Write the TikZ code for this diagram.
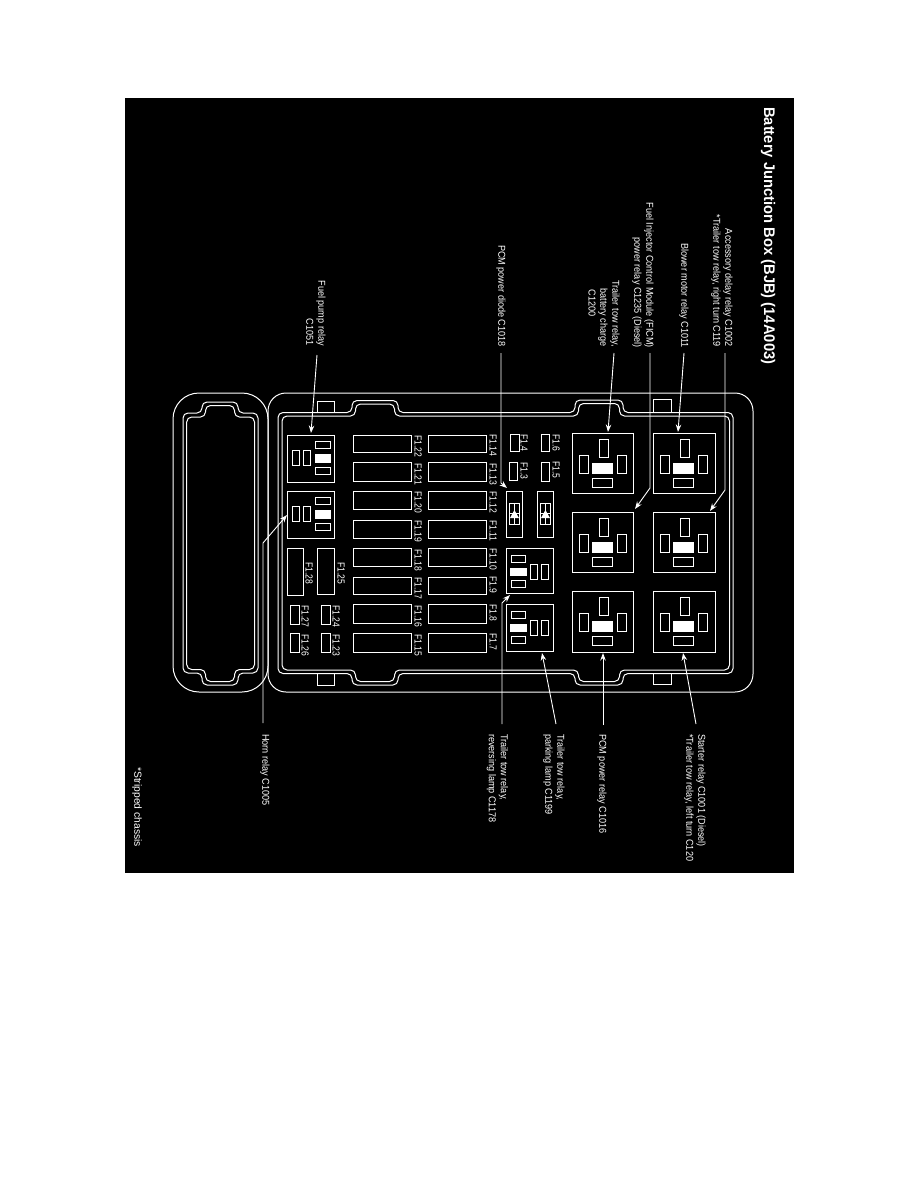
\documentclass[tikz,border=0pt]{standalone}
\usepackage{fontspec}
\setmainfont{Liberation Sans}
\newfontfamily\labfont[FakeStretch=0.91]{Liberation Sans}
\newfontfamily\fusefont[FakeStretch=0.84]{Liberation Sans}
\newfontfamily\headfont[FakeStretch=0.957]{Liberation Sans}
\usetikzlibrary{arrows.meta,calc}
\tikzset{
  ln/.style={draw=white,line width=1pt},
  part/.style={draw=white,line width=1pt},
  solid part/.style={draw=white,fill=white,line width=.6pt},
  boxnode/.style={draw=white,line width=1pt,anchor=north west,inner sep=0pt,outer sep=0pt,fill=black},
  lead/.style={draw=white,line width=.9pt,-{Stealth[length=7.5pt,width=5.5pt]}},
  lbl/.style={text=white,rotate=-90,inner sep=0pt,font=\fontsize{10}{12}\selectfont\labfont},
  notelbl/.style={text=white,rotate=-90,inner sep=0pt,font=\fontsize{10.3}{12}\selectfont},
  fuselbl/.style={text=white,rotate=-90,inner sep=0pt,font=\fontsize{10.2}{11}\selectfont\fusefont},
  titlelbl/.style={text=white,rotate=-90,inner sep=0pt,anchor=west,font=\fontsize{15.4}{17}\selectfont\headfont\bfseries},
}
% big relay: name, x, y, w, h
\newcommand\bigrelay[5]{%
  \node[boxnode,minimum width=#4pt,minimum height=#5pt] (#1) at (#2,#3) {};
  \begin{scope}[shift={(#2,#3)}]
    \draw[part] (27.3,6.7) rectangle (36,24.7);
    \draw[part] (7.3,22) rectangle (16,40);
    \draw[part] (45.7,22) rectangle (54.3,40);
    \draw[solid part] (20.7,30.7) rectangle (40.7,40.7);
    \draw[part] (20.7,45.7) rectangle (40,54);
  \end{scope}}
% small relay with slots on the right: name, x, y, h
\newcommand\relayR[4]{%
  \node[boxnode,minimum width=47pt,minimum height=#4pt] (#1) at (#2,#3) {};
  \begin{scope}[shift={(#2,#3)}]
    \draw[part] (28,6) rectangle (43,13);
    \draw[solid part] (28,19) rectangle (43,27);
    \draw[part] (28,32.5) rectangle (43,39.5);
    \draw[part] (5.5,15) rectangle (12,30.5);
    \draw[part] (16,15) rectangle (23,30.5);
  \end{scope}}
% small relay with slots on the left
\newcommand\relayL[4]{%
  \node[boxnode,minimum width=47pt,minimum height=#4pt] (#1) at (#2,#3) {};
  \begin{scope}[shift={(#2,#3)}]
    \draw[part] (5,7.5) rectangle (19.5,14);
    \draw[solid part] (4,20) rectangle (20,27);
    \draw[part] (5,32.5) rectangle (19.5,39);
    \draw[part] (24.5,16) rectangle (31,31.5);
    \draw[part] (35.5,16) rectangle (42.5,31.5);
  \end{scope}}
% diode: name, x, y
\newcommand\diode[3]{%
  \node[boxnode,minimum width=16.5pt,minimum height=46.5pt] (#1) at (#2,#3) {};
  \begin{scope}[shift={(#2,#3)}]
    \draw[part,line width=.9pt] (3.3,12.7) rectangle (13.7,33.7);
    \draw[part,line width=.9pt] (8.4,12.7) -- (8.4,33.7) (3.3,22.7) -- (13.7,22.7);
    \fill[white] (4,27) -- (13,27) -- (8.4,19) -- cycle;
  \end{scope}}
% fuse box with rotated label: name, x0, y0, x1, y1, text, label x, label y
\newcommand\fuse[8]{%
  \node[boxnode,minimum width={#4-#2},minimum height={#5-#3}] (#1) at (#2,#3) {};
  \node[fuselbl] (#1l) at ({#7+1.2},#8) {#6};}
\begin{document}
\begin{tikzpicture}[x=1pt,y=-1pt]
\useasboundingbox (0,0) rectangle (918,1188);
\fill[white] (0,0) rectangle (918,1188);
\fill[black] (125,98) rectangle (794,873);

% housing
\draw[ln,rounded corners=18pt] (268,393) rectangle (753,692);
\draw[ln,rounded corners=26pt] (173,393) rectangle (268,692);

% main double outline
\draw[ln,rounded corners=5pt]
  (278,500) -- (278,412.5) -- (352,412.5) -- (352,400.5) -- (398,400.5) -- (398,412.5)
  -- (575,412.5) -- (575,400) -- (623,400) -- (623,412.5) -- (733,412.5)
  -- (733,673.5) -- (623,673.5) -- (623,685) -- (575,685) -- (575,673.5)
  -- (398,673.5) -- (398,685) -- (352,685) -- (352,673.5) -- (278,673.5) -- cycle;
\draw[ln,rounded corners=5pt]
  (282,500) -- (282,416) -- (355.5,416) -- (355.5,404) -- (394.5,404) -- (394.5,416)
  -- (578.5,416) -- (578.5,403.5) -- (619.5,403.5) -- (619.5,416) -- (729.5,416)
  -- (729.5,670) -- (619.5,670) -- (619.5,681.5) -- (578.5,681.5) -- (578.5,670)
  -- (394.5,670) -- (394.5,681.5) -- (355.5,681.5) -- (355.5,670) -- (282,670) -- cycle;

% lid double outline
\draw[ln,rounded corners=5pt]
  (183,500) -- (183,413) -- (202,413) -- (202,402) -- (238,402) -- (238,413) -- (258,413)
  -- (258,673) -- (238,673) -- (238,685) -- (202,685) -- (202,673) -- (183,673) -- cycle;
\draw[ln,rounded corners=5pt]
  (186.7,500) -- (186.7,417) -- (205.5,417) -- (205.5,405.5) -- (234.5,405.5) -- (234.5,417) -- (254.5,417)
  -- (254.5,669.5) -- (234.5,669.5) -- (234.5,681.5) -- (205.5,681.5) -- (205.5,669.5) -- (186.7,669.5) -- cycle;

% tabs
\draw[ln] (317,413) -- (317,401) -- (334,401) -- (334,413);
\draw[ln] (653,412) -- (653,399) -- (671,399) -- (671,412);
\draw[ln] (317,673) -- (317,685) -- (334,685) -- (334,673);
\draw[ln] (653,673) -- (653,684) -- (671,684) -- (671,673);

% large relays
\bigrelay{rBat}{572}{433}{61}{60}
\bigrelay{rBlower}{653}{433}{62}{60}
\bigrelay{rFicm}{572}{512}{61}{60.5}
\bigrelay{rAcc}{653}{512}{62}{60.5}
\bigrelay{rPcm}{572}{591}{61}{61}
\bigrelay{rStart}{653}{591}{62}{61}

% small relays
\relayR{rFuel}{287}{435}{47}
\relayR{rHorn}{287}{491}{47}
\relayL{rRev}{506}{548}{45.5}
\relayL{rPark}{506}{604}{47.5}

% diodes
\diode{dPcm}{506}{491}
\diode{dOther}{537}{491}

% fuse rows
\fuse{f22}{353}{435}{411}{452}{F1.22}{417}{446}
\fuse{f21}{353}{462}{411}{481}{F1.21}{417}{474}
\fuse{f20}{353}{491}{411}{509}{F1.20}{417}{502}
\fuse{f19}{353}{520}{411}{538}{F1.19}{417}{531}
\fuse{f18}{353}{548}{411}{566}{F1.18}{417}{560}
\fuse{f17}{353}{577}{411}{594}{F1.17}{417}{588}
\fuse{f16}{353}{604}{411}{623}{F1.16}{417}{616}
\fuse{f15}{353}{633}{411}{652}{F1.15}{417}{645}
\fuse{f14}{428}{435}{486}{452}{F1.14}{492}{445}
\fuse{f13}{428}{462}{486}{481}{F1.13}{492}{474}
\fuse{f12}{428}{491}{486}{509}{F1.12}{492}{502}
\fuse{f11}{428}{520}{486}{538}{F1.11}{492}{531}
\fuse{f10}{428}{548}{486}{566}{F1.10}{492}{559}
\fuse{f9}{428}{577}{486}{594}{F1.9}{492}{585}
\fuse{f8}{428}{604}{486}{623}{F1.8}{492}{613}
\fuse{f7}{428}{633}{486}{652}{F1.7}{492}{642}
% small fuses
\fuse{f4}{510}{434}{519}{451}{F1.4}{523}{443}
\fuse{f3}{509}{462}{517}{480}{F1.3}{523}{471}
\fuse{f6}{541}{434}{549}{451}{F1.6}{555}{443}
\fuse{f5}{541}{462}{549}{481}{F1.5}{555}{470}
\fuse{f28}{287}{548}{303}{595}{F1.28}{308}{573}
\fuse{f25}{317}{548}{334}{594}{F1.25}{340}{573}
\fuse{f27}{290}{605}{299}{624}{F1.27}{304}{616}
\fuse{f26}{290}{633}{299}{652}{F1.26}{304}{645}
\fuse{f24}{321}{605}{330}{624}{F1.24}{335}{616}
\fuse{f23}{321}{633}{330}{652}{F1.23}{335}{645}

% title and labels
\node[titlelbl] (title) at (768,107) {Battery Junction Box (BJB) (14A003)};
\node[lbl,anchor=east,align=right] (lAcc) at (722,347) {Accessory delay relay C1002\\*Trailer tow relay, right turn C119};
\node[lbl,anchor=east] (lBlower) at (684,348) {Blower motor relay C1011};
\node[lbl,anchor=east,align=right] (lFicm) at (643,348) {Fuel Injector Control Module (FICM)\\power relay C1235 (Diesel)};
\node[lbl,anchor=east,align=right] (lBat) at (609,347) {Trailer tow relay,\\battery charge};
\node[lbl,anchor=east] (lBatc) at (592,317) {C1200};
\node[lbl,anchor=east] (lDiode) at (501,347) {PCM power diode C1018};
\node[lbl,anchor=east,align=right] (lFuel) at (316,346) {Fuel pump relay\\C1051};
\node[lbl,anchor=west,align=left] (lStart) at (695,734) {Starter relay C1001 (Diesel)\\*Trailer tow relay, left turn C120};
\node[lbl,anchor=west] (lPcm) at (602,734) {PCM power relay C1016};
\node[lbl,anchor=west,align=left] (lPark) at (554,734) {Trailer tow relay,\\parking lamp C1199};
\node[lbl,anchor=west,align=left] (lRev) at (497.5,734) {Trailer tow relay,\\reversing lamp C1178};
\node[lbl,anchor=west] (lHorn) at (265,734) {Horn relay C1005};
\node[notelbl,anchor=west] (lChassis) at (137,767) {*Stripped chassis};

% elbows
\coordinate (eHorn) at (263,543);
\coordinate (eDiode) at (501,483);
\coordinate (eFicm) at (650,488);
\coordinate (eAcc) at (725,490);
\coordinate (eRev) at (502,603);

% leaders
\draw[lead] ($(lFuel.east)+(1,9)$) -- ($(rFuel.north west)+(24,-2)$);
\draw[lead] ($(lHorn.west)+(-2,-11)$) -- (eHorn) -- ($(rHorn.north west)+(0,24)$);
\draw[lead] ($(lDiode.east)+(0,6)$) -- (eDiode) -- ($(dPcm.north west)+(1,-3)$);
\draw[lead] ($(lBat.east)+(5,6)$) -- ($(rBat.north west)+(36,-1)$);
\draw[lead] ($(lFicm.east)+(7,5)$) -- (eFicm) -- ($(rFicm.north west)+(63,-3)$);
\draw[lead] ($(lBlower.east)+(0,5)$) -- ($(rBlower.north west)+(25,-1)$);
\draw[lead] ($(lAcc.east)+(3,6)$) -- (eAcc) -- ($(rAcc.north west)+(57,-1)$);
\draw[lead] ($(lRev.west)+(4.5,-10)$) -- (eRev) -- ($(rRev.north west)+(4,47)$);
\draw[lead] ($(lPark.west)+(2,-10)$) -- ($(rPark.north west)+(36,49)$);
\draw[lead] ($(lPcm.west)+(1,-9)$) -- ($(rPcm.north west)+(31,62)$);
\draw[lead] ($(lStart.west)+(1,-10)$) -- ($(rStart.north west)+(30,62)$);
\end{tikzpicture}
\end{document}
